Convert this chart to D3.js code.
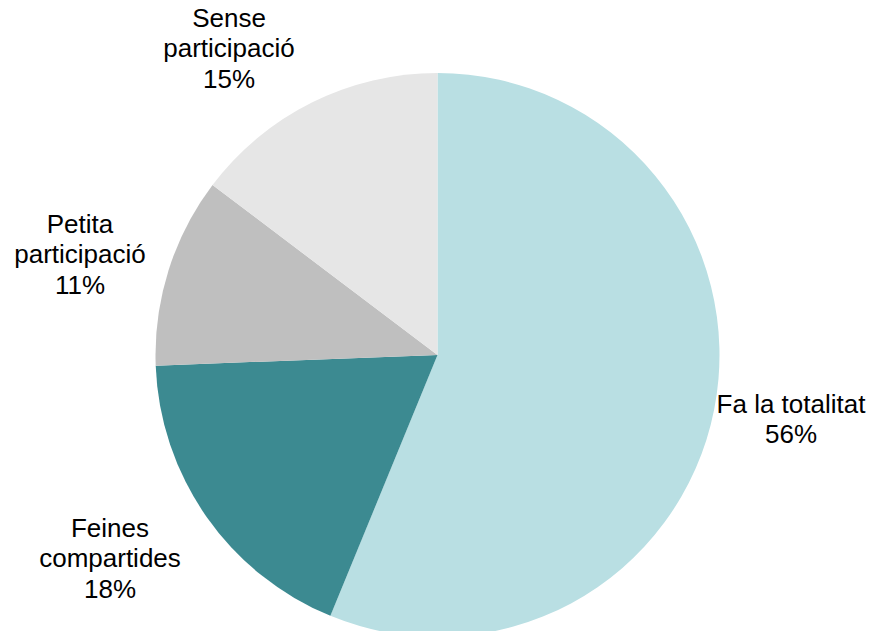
<!DOCTYPE html>
<html lang="ca">
<head>
<meta charset="UTF-8">
<title>Pie</title>
<script src="https://cdn.jsdelivr.net/npm/d3@7"></script>
<style>
  body { margin: 0; background: #fff; }
  text { font-family: "Liberation Sans", Arial, sans-serif; font-size: 26px; fill: #000; }
</style>
</head>
<body>
<svg width="872" height="631"></svg>
<script>
  // slices, clockwise from 12 o'clock
  let categories = ['Fa la totalitat', 'Feines compartides', 'Petita participació', 'Sense participació'];
  let values = [56.2, 18.2, 10.9, 14.7];
  let colors = ['#B9DFE3', '#3C8A91', '#BFBFBF', '#E6E6E6'];
  // label lines (name split as in the chart)
  let labelLines = [['Fa la totalitat'], ['Feines', 'compartides'], ['Petita', 'participació'], ['Sense', 'participació']];
  // label anchor (centre x, first baseline y)
  let labelPos = [[791, 413], [110, 537], [80, 233], [229, 27]];

  let svg = d3.select('svg');
  let cx = 437.5, cy = 355, r = 282;

  let pie = d3.pie().sort(null).value(d => d);
  let arc = d3.arc().innerRadius(0).outerRadius(r);
  let arcs = pie(values);

  let g = svg.append('g').attr('transform', `translate(${cx},${cy})`);
  g.selectAll('path')
      .data(arcs)
      .enter()
      .append('path')
      .attr('d', arc)
      .attr('fill', (d, i) => colors[i]);

  let fmt = d3.format('.0f');
  let labels = svg.selectAll('text.lbl')
      .data(arcs)
      .enter()
      .append('text')
      .attr('class', 'lbl')
      .attr('text-anchor', 'middle')
      .attr('x', (d, i) => labelPos[i][0])
      .attr('y', (d, i) => labelPos[i][1]);

  labels.each(function (d, i) {
      let t = d3.select(this);
      let lines = labelLines[i].concat([fmt(values[i]) + '%']);
      lines.forEach((l, j) => {
          t.append('tspan')
              .attr('x', labelPos[i][0])
              .attr('dy', j === 0 ? 0 : 30.3)
              .text(l);
      });
  });
</script>
</body>
</html>
